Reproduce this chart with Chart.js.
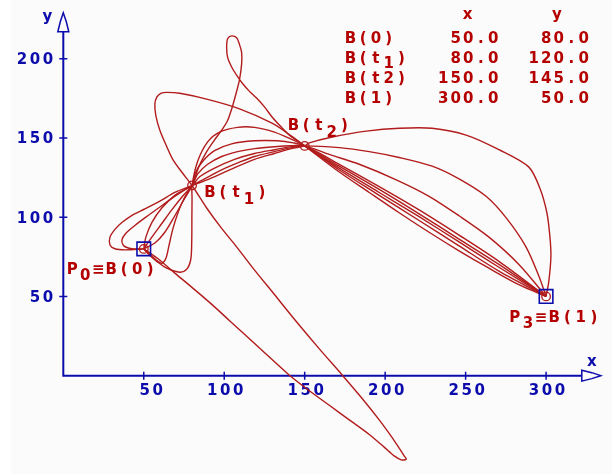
<!DOCTYPE html>
<html><head><meta charset="utf-8">
<script src="https://cdn.jsdelivr.net/npm/chart.js@4.4.0/dist/chart.umd.min.js"></script>
<style>html,body{margin:0;padding:0;background:#fff;}canvas{display:block;}</style>
</head><body>
<canvas id="c" width="612" height="474"></canvas>
<script>
// ---- data ----
const anchorNames = ['B(0)', 'B(t1)', 'B(t2)', 'B(1)'];
const anchorX = [50, 80, 150, 300];
const anchorY = [80, 120, 145, 50];
const xTicks = [50, 100, 150, 200, 250, 300];
const yTicks = [50, 100, 150, 200];
const xTickLabels = ['50', '100', '150', '200', '250', '300'];
const yTickLabels = ['50', '100', '150', '200'];
const tableX = ['50.0', '80.0', '150.0', '300.0'];
const tableY = ['80.0', '120.0', '145.0', '50.0'];
const xAxisEnd = 334, yAxisEnd = 229;

const curve1 = [[50,80],[38.3,79.4],[32.1,80.1],[29.0,82.5],[29.0,87.4],[32.1,92.3],[36.4,96.6],[43.2,101.5],[50.7,105.2],[60.0,110.1],[69.3,115.6],[80,120],
  [90.9,124.2],[103.3,129.8],[118.8,136.5],[131.2,140.2],[141.8,143.3],[150,145],
  [152.9,146.9],[167.2,150.6],[188.3,154.3],[208.7,156.1],[229.2,156.1],[250.3,151.8],[270.7,142.6],[289.3,131.6],[296.2,118.1],[300.5,102.8],[302.4,87.4],[303.0,75.2],[301.7,59.5],[300,50]];
const curve2 = [[50,80],[42.6,80.1],[37.6,81.9],[36.4,85.6],[38.9,89.9],[44.5,94.8],[52.5,100.9],[61.8,107.7],[71.1,114.4],[80,120],
  [87.8,124.2],[98.4,129.8],[109.5,134.7],[118.8,138.3],[131.2,141.4],[141.8,143.9],[150,145],
  [171.5,143.9],[190.1,141.4],[208.7,137.7],[229.2,132.2],[245.9,124.2],[262.7,113.2],[275.1,99.7],[287.5,81.3],[295.5,62.9],[300,50]];
const curve3 = [[50,80],[51.3,87.4],[55.0,96.6],[61.2,105.8],[69.3,113.8],[80,120],
  [84.7,125.5],[94.0,131.0],[106.4,136.5],[118.8,140.2],[131.2,142.6],[141.8,144.5],[150,145],
  [165.3,139.6],[183.9,133.4],[206.9,123.6],[227.3,113.2],[245.9,100.9],[264.5,87.4],[283.1,70.2],[300,50]];
const curve4 = [[50,80],[55.0,87.4],[61.2,96.0],[67.4,104.6],[73.6,112.6],[80,120],
  [83.5,127.3],[89.7,133.4],[98.4,138.3],[108.3,141.4],[118.8,143.3],[131.2,144.5],[141.8,145.1],[150,145],
  [171.5,133.4],[196.3,119.3],[221.1,104.6],[245.9,88.7],[270.7,72.1],[300,50]];
const curve5 = [[50,80],[56.9,83.7],[63.1,90.5],[69.3,100.9],[74.8,110.7],[80,120],
  [82.3,128.5],[87.2,135.9],[94.0,142.0],[104.6,146.3],[118.8,148.2],[133.1,148.2],[143.0,146.9],[150,145],
  [171.5,132.2],[196.3,117.5],[221.1,102.1],[245.9,86.2],[270.7,70.2],[300,50]];
const curve6 = [[50,80],[53.8,76.4],[58.1,72.7],[61.2,70.9],[63.7,73.9],[65.5,81.3],[68.0,92.3],[71.7,104.0],[75.4,112.6],[80,120],
  [84.1,131.6],[89.1,141.4],[94.0,148.8],[98.4,154.9],[102.1,161.0],[105.2,170.2],[107.7,179.4],[109.5,186.8],[110.8,196.6],[110.8,204.0],[109.5,208.9],[107.7,213.2],[104.6,214.4],[102.1,212.6],[101.5,207.1],[102.1,200.9],[104.6,194.8],[108.3,188.7],[111.4,184.4],[115.7,179.4],[120.1,175.2],[125.0,169.6],[130.0,162.9],[135.6,156.7],[140.5,151.8],[145.5,148.2],[150,145],
  [171.5,131.0],[196.3,115.6],[221.1,100.3],[245.9,84.4],[270.7,68.4],[300,50]];
const curve7 = [[50,80],[53.8,75.8],[58.1,72.1],[64.3,67.8],[72.4,65.3],[76.7,67.2],[79.2,73.3],[79.8,84.4],[79.9,99.7],[80,112.0],[80,120],
  [83.5,135.3],[89.7,147.5],[97.1,153.7],[108.3,156.7],[118.8,156.7],[131.2,153.7],[141.2,149.4],[150,145],
  [171.5,129.8],[196.3,113.8],[221.1,97.9],[245.9,81.9],[270.7,66.0],[300,50]];
const curve8 = [[50,80],[58.7,73.9],[69.3,64.7],[81.6,54.3],[92.8,44.5],[103.3,34.7],[121.9,17.5],[140.5,0.3],[152.9,-9.5],[165.3,-18.7],[177.7,-27.9],[190.1,-37.1],[199.4,-45.1],[205.6,-50.6],[210.0,-53.1],[212.5,-53.1],[213.1,-52.5],
  [211.8,-50.6],[208.7,-45.7],[203.8,-38.3],[196.3,-27.9],[185.2,-13.8],[173.4,0.3],[159.1,16.9],[144.9,34.0],[131.2,51.2],[117.0,69.0],[107.7,81.3],[98.4,92.9],[89.1,105.8],[80,120],
  [73.6,128.5],[68.0,136.5],[64.3,144.5],[60.0,154.9],[57.5,164.1],[56.9,171.5],[58.1,175.8],[60.6,178.2],[64.3,178.8],[72.4,178.2],[89.1,174.5],[109.5,168.4],[130.0,159.2],[141.8,151.2],[150,145],
  [171.5,128.5],[190.1,115.6],[208.7,102.8],[227.3,90.5],[245.9,78.8],[264.5,67.8],[283.1,57.4],[300,50]];

// ---- styles ----
const BLUE = '#0c0cac';
const RED = '#b40000';
const LINE = '#b21c1c';
const FONT = 'bold 15px "DejaVu Sans"';
const CELL = 13;

const curves = [curve1, curve2, curve3, curve4, curve5, curve6, curve7, curve8];
const toXY = arr => arr.map(p => ({x: p[0], y: p[1]}));

function cells(ctx, text, left, yc, cell, subIdx, subDy) {
  ctx.textAlign = 'center';
  ctx.textBaseline = 'alphabetic';
  Array.from(text).forEach((ch, i) => {
    const dy = subIdx.includes(i) ? subDy : 0;
    ctx.fillText(ch, left + cell * (i + 0.5), yc + 5.4 + dy);
  });
}
function cellsRight(ctx, text, right, yc, cell) {
  const n = Array.from(text).length;
  cells(ctx, text, right - cell * n, yc, cell, [], 0);
}

const bgPlugin = {
  id: 'bg',
  beforeDraw(chart) {
    const ctx = chart.ctx;
    ctx.save();
    ctx.fillStyle = '#ffffff';
    ctx.fillRect(0, 0, chart.width, chart.height);
    ctx.fillStyle = '#fbfbfb';
    ctx.fillRect(11, 0, chart.width - 11, chart.height);
    ctx.restore();
  }
};

const axesPlugin = {
  id: 'axes',
  beforeDatasetsDraw(chart) {
    const ctx = chart.ctx, xs = chart.scales.x, ys = chart.scales.y;
    const ox = xs.getPixelForValue(0), oy = ys.getPixelForValue(0);
    const xe = xs.getPixelForValue(xAxisEnd), ye = ys.getPixelForValue(yAxisEnd);
    ctx.save();
    ctx.strokeStyle = BLUE;
    ctx.fillStyle = BLUE;
    ctx.lineWidth = 2;
    ctx.beginPath();
    ctx.moveTo(ox, oy + 1); ctx.lineTo(ox, ye + 19);
    ctx.moveTo(ox - 1, oy); ctx.lineTo(xe - 19, oy);
    ctx.stroke();
    ctx.lineWidth = 1.5;
    // arrow heads (outlined)
    ctx.beginPath();
    ctx.moveTo(ox, ye); ctx.lineTo(ox - 3, ye + 9); ctx.lineTo(ox - 5.5, ye + 19);
    ctx.lineTo(ox + 5.5, ye + 19); ctx.lineTo(ox + 3, ye + 9); ctx.closePath();
    ctx.stroke();
    ctx.beginPath();
    ctx.moveTo(xe, oy); ctx.lineTo(xe - 9, oy - 3); ctx.lineTo(xe - 19, oy - 5.5);
    ctx.lineTo(xe - 19, oy + 5.5); ctx.lineTo(xe - 9, oy + 3); ctx.closePath();
    ctx.stroke();
    // ticks
    ctx.beginPath();
    yTicks.forEach(v => { const p = ys.getPixelForValue(v); ctx.moveTo(ox - 4, p); ctx.lineTo(ox + 4, p); });
    xTicks.forEach(v => { const p = xs.getPixelForValue(v); ctx.moveTo(p, oy - 4); ctx.lineTo(p, oy + 4); });
    ctx.stroke();
    // tick labels
    ctx.font = FONT;
    yTicks.forEach((v, i) => cellsRight(ctx, yTickLabels[i], ox - 8.8, ys.getPixelForValue(v), CELL));
    xTicks.forEach((v, i) => cellsRight(ctx, xTickLabels[i], xs.getPixelForValue(v) + 20.5, oy + 14, CELL));
    // axis titles
    ctx.textAlign = 'center';
    ctx.textBaseline = 'alphabetic';
    ctx.fillText('y', ox - 16, ye + 8);
    ctx.fillText('x', xe - 9, oy - 9.5);
    ctx.restore();
  }
};

const textPlugin = {
  id: 'texts',
  afterDraw(chart) {
    const ctx = chart.ctx, xs = chart.scales.x, ys = chart.scales.y;
    const px = anchorX.map(v => xs.getPixelForValue(v));
    const py = anchorY.map(v => ys.getPixelForValue(v));
    ctx.save();
    ctx.fillStyle = RED;
    ctx.font = FONT;
    // point labels
    cells(ctx, 'B(t1)', px[1] + 11.5, py[1] + 6, 13, [3], 7);
    cells(ctx, 'B(t2)', px[2] - 17.5, py[2] - 21, 12.7, [3], 7);
    cells(ctx, 'P0\u2261B(0)', px[0] - 78, py[0] + 19.5, 13, [1], 6.5);
    cells(ctx, 'P3\u2261B(1)', px[3] - 38, py[3] + 20, 13.2, [1], 6);
    // table
    ctx.textAlign = 'center';
    ctx.textBaseline = 'alphabetic';
    ctx.fillText('x', 467.5, 18.5);
    ctx.fillText('y', 557, 18.5);
    const rowY = [38, 58, 78, 97.5];
    anchorNames.forEach((nm, i) => {
      if (nm === 'B(t1)') cells(ctx, nm, 344, rowY[i], 12.75, [3], 5);
      else cells(ctx, nm, 344, rowY[i], 12.75, [], 0);
      cellsRight(ctx, tableX[i], 499.5, rowY[i], 12.5);
      cellsRight(ctx, tableY[i], 590, rowY[i], 12.5);
    });
    ctx.restore();
  }
};

const datasets = [
  {data: toXY([[anchorX[0], anchorY[0]], [anchorX[3], anchorY[3]]]), showLine: false,
   pointStyle: 'rect', pointRadius: 9.6, borderColor: BLUE, borderWidth: 1.6, backgroundColor: 'rgba(0,0,0,0)'},
  {data: anchorX.map((x, i) => ({x, y: anchorY[i]})), showLine: false,
   pointStyle: 'circle', pointRadius: 4.3, borderColor: LINE, borderWidth: 1.3, backgroundColor: 'rgba(0,0,0,0)'}
].concat(curves.map(c => ({
  data: toXY(c), showLine: true, borderColor: LINE, borderWidth: 1.4, pointRadius: 0, tension: 0.3, fill: false
})));

new Chart(document.getElementById('c'), {
  type: 'scatter',
  data: {datasets},
  options: {
    responsive: false, animation: false, devicePixelRatio: 1, events: [],
    layout: {padding: {left: 63.3, right: 9.96, top: 7.6, bottom: 1.85}},
    scales: {
      x: {type: 'linear', min: 0, max: xAxisEnd, display: false},
      y: {type: 'linear', min: -55, max: 230, display: false}
    },
    plugins: {legend: {display: false}, tooltip: {enabled: false}}
  },
  plugins: [bgPlugin, axesPlugin, textPlugin]
});
</script>
</body></html>
